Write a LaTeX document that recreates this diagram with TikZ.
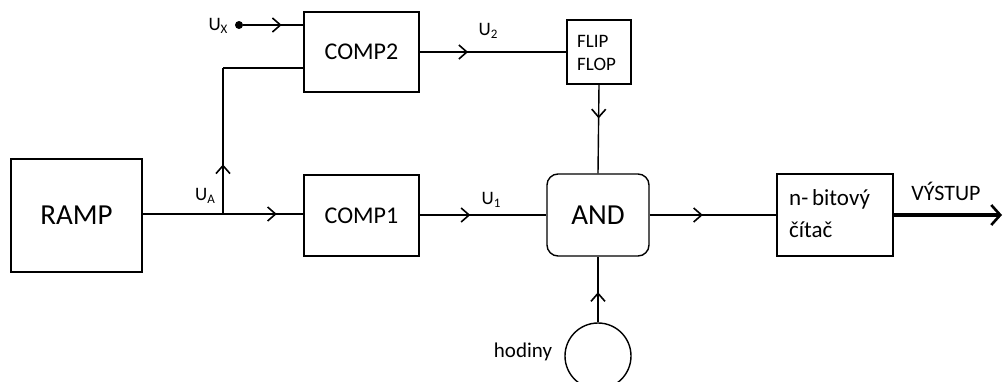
\documentclass[tikz,border=0pt]{standalone}
\usepackage{fontspec}
\setmainfont{Carlito}
\usetikzlibrary{arrows.meta,decorations.markings}

\tikzset{
  blk/.style={draw, line width=1.4pt, inner sep=0pt, align=center},
  conn/.style={line width=1.4pt},
  arr/.style={conn, postaction={decorate},
    decoration={markings, mark=at position #1 with
      {\arrow{Straight Barb[length=8pt,width=14pt,line width=1.6pt]}}}},
  lbl/.style={inner sep=0pt, font=\fontsize{19}{21}\selectfont},
}
\newcommand{\sbs}[1]{\raisebox{-0.3ex}{\fontsize{13}{14}\selectfont #1}}

\begin{document}
\begin{tikzpicture}[x=1pt, y=-1pt]
\useasboundingbox (0,0) rectangle (1003,381);

% blocks
\node[blk, minimum width=131pt, minimum height=113pt, font=\fontsize{29}{32}\selectfont] (ramp) at (76.5,215.5) {RAMP};
\node[blk, minimum width=115pt, minimum height=81pt, font=\fontsize{24}{28}\selectfont] (comp1) at (361.5,215.5) {COMP1};
\node[blk, minimum width=115pt, minimum height=80pt, font=\fontsize{24}{28}\selectfont] (comp2) at (361.5,52) {COMP2};
\node[blk, minimum width=64pt, minimum height=64pt] (ff) at (599,52) {};
\node[inner sep=0pt, anchor=west, align=left, font=\fontsize{19}{23}\selectfont] (fftxt) at (577,53) {FLIP\\FLOP};
\node[blk, rounded corners=11pt, minimum width=102pt, minimum height=82pt, font=\fontsize{29}{32}\selectfont] (and) at (598,215) {AND};
\node[blk, minimum width=116pt, minimum height=82pt] (cnt) at (835,215) {};
\node[inner sep=0pt, anchor=west, align=left, font=\fontsize{23}{32}\selectfont] (cnttxt) at (789,214) {n-\,bitový\\čítač};
\node[draw, line width=1.4pt, circle, minimum size=66pt, inner sep=0pt] (clk) at (598,356) {};

% signal points
\coordinate (ua) at (223,214);
\coordinate (fb) at (223,68);
\node[circle, fill, inner sep=0pt, minimum size=8pt] (ux) at (239,25) {};
\coordinate (out) at (1002,215);

% connectors
\draw[conn] (ramp.east |- ua) -- (ua);
\draw[arr=0.67] (ua) -- (comp1.west |- ua);
\draw[arr=0.34] (ua) -- (fb);
\draw[conn] (fb) -- (comp2.west |- fb);
\draw[arr=0.64] (ux) -- (comp2.west |- ux);
\draw[arr=0.33] (comp2.east) -- (ff.west);
\draw[arr=0.38] (ff.south) -- (and.north);
\draw[arr=0.40] (comp1.east |- and.west) -- (and.west);
\draw[arr=0.42] (and.east) -- (cnt.west);
\draw[arr=0.46] (clk.north) -- (and.south);
\draw[line width=4pt, -{Straight Barb[length=9pt,width=20pt,line width=2.6pt]}] (cnt.east) -- (out);

% labels
\node[lbl] (lux) at (218,26) {U\sbs{X}};
\node[lbl] (lua) at (205,196) {U\sbs{A}};
\node[lbl] (lu1) at (491,200) {U\sbs{1}};
\node[lbl] (lu2) at (488,31) {U\sbs{2}};
\node[inner sep=0pt, font=\fontsize{21}{24}\selectfont] (lclk) at (523,352) {hodiny};
\node[inner sep=0pt, font=\fontsize{22}{24}\selectfont] (lout) at (946,191) {VÝSTUP};
\end{tikzpicture}
\end{document}
